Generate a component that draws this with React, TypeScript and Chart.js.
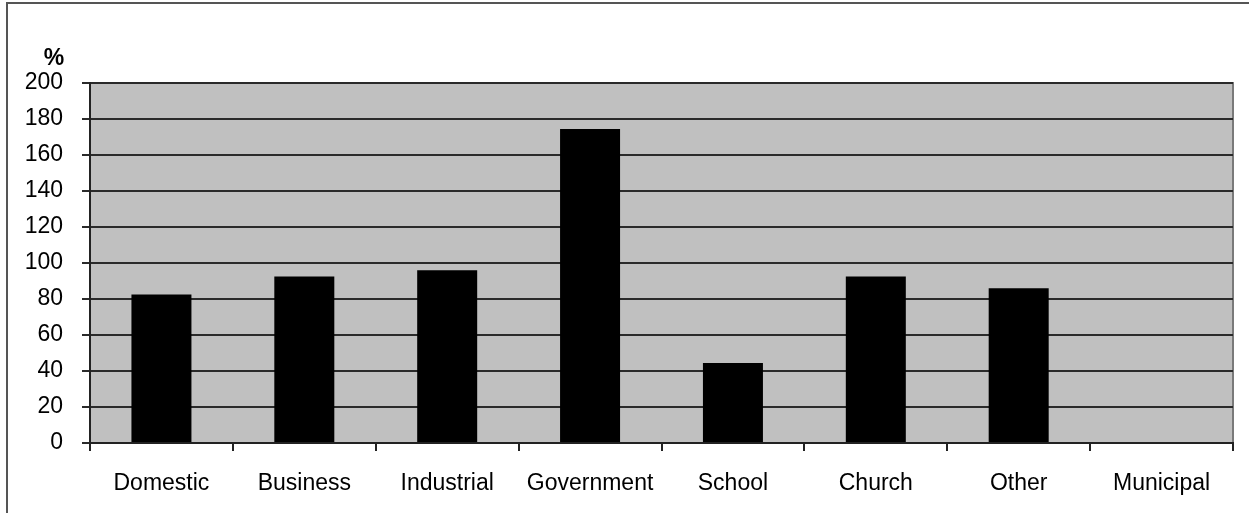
import React, { useEffect, useRef } from "react";
import { Chart, registerables } from "chart.js";

Chart.register(...registerables);

const categories = [
  "Domestic",
  "Business",
  "Industrial",
  "Government",
  "School",
  "Church",
  "Other",
  "Municipal",
];
const percentValues = [82.5, 92.5, 96, 174.5, 44.5, 92.5, 86, 0];
const yTickStep = 20;
const yMax = 200;
const unitLabel = "%";

const FONT = "'Liberation Sans', Arial, sans-serif";
const LABEL_SIZE = 23;

// Grey plot background with a darker frame on the top and right edges
const plotBackground = {
  id: "plotBackground",
  beforeDraw(chart: any) {
    const { ctx, chartArea } = chart;
    const { left, top, right, bottom } = chartArea;
    ctx.save();
    ctx.fillStyle = "#c0c0c0";
    ctx.fillRect(left, top, right - left, bottom - top);
    ctx.strokeStyle = "#7a7a7a";
    ctx.lineWidth = 2;
    ctx.beginPath();
    ctx.moveTo(left, top);
    ctx.lineTo(right, top);
    ctx.lineTo(right, bottom + 8);
    ctx.stroke();
    ctx.restore();
  },
  afterDraw(chart: any) {
    const { ctx, chartArea } = chart;
    ctx.save();
    ctx.font = `bold 23px ${FONT}`;
    ctx.fillStyle = "#000";
    ctx.textAlign = "center";
    ctx.textBaseline = "middle";
    ctx.fillText(unitLabel, chartArea.left - 36, chartArea.top - 24);
    ctx.restore();
  },
};

export default function App() {
  const canvasRef = useRef<HTMLCanvasElement | null>(null);

  useEffect(() => {
    const canvas = canvasRef.current;
    if (!canvas) return;
    const chart = new Chart(canvas, {
      type: "bar",
      data: {
        labels: categories,
        datasets: [
          {
            data: percentValues,
            backgroundColor: "#000000",
            borderWidth: 0,
            categoryPercentage: 1,
            barPercentage: 0.42,
          },
        ],
      },
      options: {
        responsive: false,
        animation: false,
        devicePixelRatio: 1,
        layout: { padding: { left: 0, top: 83, right: 16, bottom: 0 } },
        plugins: {
          legend: { display: false },
          tooltip: { enabled: false },
          title: { display: false },
        },
        scales: {
          x: {
            type: "category",
            offset: true,
            afterFit(scale: any) {
              scale.height = 70;
            },
            grid: {
              offset: true,
              drawOnChartArea: false,
              drawTicks: true,
              tickLength: 8,
              color: "#222",
              lineWidth: 2,
            },
            border: { display: true, color: "#222", width: 2 },
            ticks: {
              color: "#000",
              font: { family: FONT, size: LABEL_SIZE },
              padding: 19,
              maxRotation: 0,
              autoSkip: false,
            },
          },
          y: {
            min: 0,
            max: yMax,
            afterFit(scale: any) {
              scale.width = 90;
            },
            grid: {
              color: "#2a2a2a",
              lineWidth: 2,
              drawTicks: true,
              tickLength: 8,
            },
            border: { display: true, color: "#222", width: 2 },
            ticks: {
              stepSize: yTickStep,
              color: "#000",
              font: { family: FONT, size: LABEL_SIZE },
              padding: 19,
            },
          },
        },
      },
      plugins: [plotBackground],
    });
    return () => chart.destroy();
  }, []);

  return (
    <div
      style={{
        position: "absolute",
        left: 0,
        top: 0,
        width: 1249,
        height: 513,
        background: "#fff",
        overflow: "hidden",
      }}
    >
      <div
        style={{
          position: "absolute",
          left: 6,
          top: 2,
          right: -10,
          bottom: -10,
          borderTop: "2px solid #555",
          borderLeft: "2px solid #555",
        }}
      />
      <canvas
        ref={canvasRef}
        width={1249}
        height={513}
        style={{ position: "absolute", left: 0, top: 0 }}
      />
    </div>
  );
}
